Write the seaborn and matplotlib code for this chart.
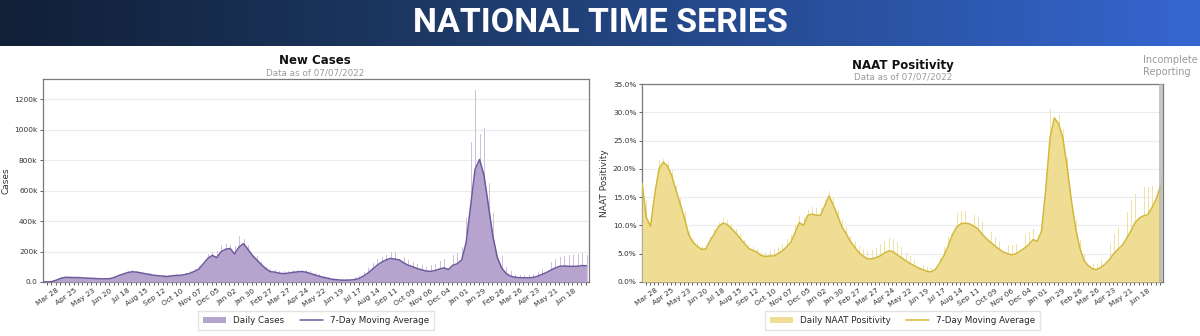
import numpy as np
import pandas as pd
import matplotlib
matplotlib.use("Agg")
import matplotlib.pyplot as plt
import matplotlib.dates as mdates
from matplotlib.patches import Patch
from matplotlib.lines import Line2D
from matplotlib.colors import LinearSegmentedColormap
import seaborn as sns

# ---------------- data (weekly readings, weeks starting 2020-03-01) ----------------
week_start = "2020-03-01"
x_end = "2022-07-07"
incomplete_start = "2022-07-01"
major_tick_start = "2020-03-28"
minor_tick_start = "2020-03-07"

# New cases, 7-day moving average (thousands)
cases_ma_k = [
    0, 0.5, 3, 12, 24, 31, 30, 29, 29, 27, 25, 24, 22, 21, 21, 22, 30, 42, 52, 62,
    67, 65, 60, 54, 49, 44, 41, 38, 36, 41, 43, 44, 50, 57, 70, 85, 120, 155, 175, 160,
    200, 215, 220, 185,
    230, 252, 215, 175, 145, 115, 88, 68, 65, 58, 55, 58, 63, 66, 69, 65, 56, 47, 38, 30,
    24, 17, 15, 12, 12, 13, 16, 24, 40, 60, 85, 110, 130, 145, 155, 150, 145, 125, 110, 100,
    88, 80, 72, 70, 75, 85, 93, 82, 110, 120, 145, 260,
    500, 740, 805, 700, 500, 300, 160, 90, 55, 38, 31, 28, 28, 27, 30, 38, 50, 62, 78, 92,
    103, 105, 103, 103, 103, 108, 106,
]
# New cases, highest single daily report in each week (thousands)
cases_peak_k = [
    0.5, 2, 8, 20, 33, 35, 35, 36, 34, 31, 29, 28, 26, 24, 25, 28, 38, 52, 62, 75,
    78, 74, 68, 62, 56, 50, 48, 45, 44, 49, 50, 55, 62, 70, 88, 108, 150, 185, 200, 205,
    240, 250, 245, 235,
    300, 280, 240, 200, 170, 130, 100, 85, 78, 70, 72, 75, 78, 80, 85, 78, 70, 58, 50, 40,
    32, 25, 22, 20, 18, 22, 35, 40, 65, 95, 125, 150, 165, 180, 195, 200, 185, 165, 145, 130,
    120, 110, 100, 110, 120, 140, 150, 170, 180, 190, 230, 420,
    918, 1264, 970, 1012, 650, 450, 260, 170, 100, 70, 55, 48, 45, 45, 55, 65, 85, 110, 130, 150,
    165, 170, 175, 180, 185, 190, 175,
]
# NAAT positivity, 7-day moving average (%)
naat_ma_pct = [
    17.5, 11.5, 9.8, 15.5, 20.0, 21.2, 20.5, 18.8, 16.2, 13.8, 11.3, 8.3, 7.0, 6.3, 5.8, 5.8,
    7.3, 8.5, 9.8, 10.4, 10.2, 9.5, 8.7, 7.8, 6.9, 6.0, 5.6, 5.3, 4.7, 4.5, 4.6, 4.6,
    5.0, 5.5, 6.2, 7.0, 8.7, 10.5, 10.0, 11.8, 12.0, 11.8, 11.8, 13.5,
    15.2, 13.6, 11.8, 9.8, 8.6, 7.2, 6.2, 5.2, 4.6, 4.1, 4.1, 4.3, 4.6, 5.1, 5.5, 5.4,
    4.8, 4.3, 3.8, 3.3, 2.9, 2.5, 2.2, 1.9, 1.8, 2.2, 3.3, 4.6, 6.3, 8.3, 9.7, 10.3,
    10.4, 10.3, 9.9, 9.4, 8.5, 7.7, 7.0, 6.4, 5.8, 5.3, 5.0, 4.8, 5.0, 5.5, 6.0, 6.6,
    7.5, 7.2, 9.0, 16.5,
    25.5, 29.0, 28.0, 25.5, 20.5, 14.5, 9.5, 6.0, 3.8, 2.9, 2.3, 2.2, 2.6, 3.2, 4.0, 5.0,
    5.8, 6.5, 7.7, 9.0, 10.5, 11.3, 11.7, 11.9, 13.2, 14.7, 17.0,
]
# NAAT positivity, highest single daily value in each week (%)
naat_peak_pct = [
    18.5, 14.5, 11.0, 17.0, 21.5, 21.8, 21.3, 19.8, 17.0, 14.8, 12.3, 9.0, 7.6, 6.9, 6.4, 6.4,
    8.0, 9.3, 10.6, 11.3, 10.9, 10.2, 9.3, 8.4, 7.4, 6.5, 6.1, 5.8, 5.3, 5.3, 5.5, 5.8,
    6.2, 6.8, 7.6, 8.3, 10.0, 11.6, 11.5, 12.8, 13.3, 13.0, 13.1, 14.6,
    16.0, 15.0, 12.8, 11.0, 9.8, 8.2, 7.2, 6.3, 5.8, 5.5, 5.7, 6.0, 6.8, 7.3, 7.8, 7.6,
    7.0, 6.1, 5.2, 4.6, 4.0, 3.5, 3.0, 2.6, 2.4, 3.0, 4.5, 6.2, 8.0, 10.8, 12.2, 12.5,
    12.5, 12.4, 11.8, 11.5, 10.6, 9.6, 8.8, 8.0, 7.2, 6.7, 6.5, 6.6, 6.8, 7.4, 8.3, 8.9,
    9.4, 9.6, 11.5, 19.5,
    30.5, 30.3, 29.6, 27.0, 22.0, 16.0, 11.0, 7.5, 5.0, 3.8, 3.2, 3.2, 4.0, 5.0, 6.8, 8.5,
    9.5, 10.8, 12.4, 14.5, 15.5, 16.3, 16.8, 16.8, 17.0, 17.3, 19.0,
]
case_ticks_k = [0, 200, 400, 600, 800, 1000, 1200]
case_tick_labels = ["0.0", "200k", "400k", "600k", "800k", "1000k", "1200k"]
pct_ticks = [0, 5, 10, 15, 20, 25, 30, 35]

# ---------------- style ----------------
sns.set_theme(style="white")
plt.rcParams["font.family"] = ["DejaVu Sans"]

W, H = 1200, 336
fig = plt.figure(figsize=(W / 100, H / 100), dpi=100)
fig.patch.set_facecolor("white")

# banner
banner_h = 46
axb = fig.add_axes([0, 1 - banner_h / H, 1, banner_h / H])
cmap = LinearSegmentedColormap.from_list(
    "banner", [(0, "#111f37"), (0.35, "#1c3863"), (1, "#3566d0")])
axb.imshow(np.linspace(0, 1, 512)[None, :], cmap=cmap, aspect="auto",
           extent=[0, 1, 0, 1])
axb.set_xlim(0, 1); axb.set_ylim(0, 1); axb.axis("off")
axb.text(0.5, 0.5, "NATIONAL TIME SERIES", color="white", fontsize=24.5,
         fontweight="bold", ha="center", va="center",
         family=["Liberation Sans Narrow", "Roboto", "DejaVu Sans"])

weeks = pd.date_range(week_start, periods=len(cases_ma_k), freq="7D")
xw = mdates.date2num(weeks)
x0 = mdates.date2num(pd.Timestamp(week_start))
x1 = mdates.date2num(pd.Timestamp(x_end))
majors = pd.date_range(major_tick_start, x_end, freq="28D")
minors = pd.date_range(minor_tick_start, x_end, freq="7D")

SPINE = "#7a7a7a"


def style_axes(ax):
    ax.set_xlim(x0, x1)
    ax.set_xticks(mdates.date2num(majors))
    ax.set_xticklabels([d.strftime("%b %d") for d in majors], rotation=35,
                       ha="right", fontsize=5.3, color="#333333")
    ax.set_xticks(mdates.date2num(minors), minor=True)
    ax.tick_params(axis="x", which="both", direction="out", length=2.5,
                   width=0.6, color="#444444", pad=1.5, bottom=True)
    ax.tick_params(axis="y", direction="out", length=2.5, width=0.6,
                   color="#444444", labelsize=5.3, labelcolor="#333333",
                   pad=1.5, left=True)
    ax.yaxis.grid(True, color="#ececec", lw=0.8)
    ax.xaxis.grid(False)
    ax.set_axisbelow(True)
    for s in ax.spines.values():
        s.set_color(SPINE)
        s.set_linewidth(0.9)
    ax.set_xlabel("")


# ---------------- New Cases ----------------
c_fill, c_spike, c_line = "#b6a4ce", "#cdc1de", "#6d5a9c"
ax1 = fig.add_axes([43 / W, 54 / H, 546 / W, 203 / H])
ax1.bar(xw + 1, cases_peak_k, width=1.3, color=c_spike, edgecolor="none", zorder=2)
ax1.fill_between(xw, cases_ma_k, 0, color=c_fill, lw=0, zorder=3)
sns.lineplot(x=xw, y=cases_ma_k, ax=ax1, color=c_line, lw=1.1, zorder=4)
style_axes(ax1)
ax1.set_ylim(0, 1333)
ax1.set_yticks(case_ticks_k)
ax1.set_yticklabels(case_tick_labels)
ax1.set_ylabel("Cases", fontsize=6.5, color="#333333", labelpad=3)
ax1.legend(handles=[Patch(facecolor=c_fill, edgecolor="none"),
                    Line2D([0], [0], color=c_line, lw=1.1)],
           labels=["Daily Cases", "7-Day Moving Average"], ncol=2,
           loc="center", bbox_to_anchor=(0.5, -0.19), fontsize=6.3,
           frameon=True, edgecolor="#dddddd", fancybox=False,
           handlelength=2.6, columnspacing=1.8, borderpad=0.55)

fig.text(315 / W, 1 - 60 / H, "New Cases", ha="center", va="center",
         fontsize=8.5, fontweight="bold", color="#111111")
fig.text(315 / W, 1 - 73 / H, "Data as of 07/07/2022", ha="center", va="center",
         fontsize=6.3, color="#9a9a9a")

# ---------------- NAAT Positivity ----------------
n_fill, n_spike, n_line = "#eedd93", "#efe2a4", "#d3b83a"
ax2 = fig.add_axes([642 / W, 54 / H, 521 / W, 198 / H])
ax2.bar(xw + 1, naat_peak_pct, width=1.3, color=n_spike, edgecolor="none", zorder=2)
ax2.fill_between(xw, naat_ma_pct, 0, color=n_fill, lw=0, zorder=3)
sns.lineplot(x=xw, y=naat_ma_pct, ax=ax2, color=n_line, lw=1.1, zorder=4)
ax2.axvspan(mdates.date2num(pd.Timestamp(incomplete_start)), x1,
            color="#b5b5b5", alpha=0.75, lw=0, zorder=5)
style_axes(ax2)
ax2.set_ylim(0, 35)
ax2.set_yticks(pct_ticks)
ax2.set_yticklabels([f"{v:.1f}%" for v in pct_ticks])
ax2.set_ylabel("NAAT Positivity", fontsize=6.5, color="#333333", labelpad=3)
ax2.legend(handles=[Patch(facecolor=n_fill, edgecolor="none"),
                    Line2D([0], [0], color=n_line, lw=1.1)],
           labels=["Daily NAAT Positivity", "7-Day Moving Average"], ncol=2,
           loc="center", bbox_to_anchor=(0.5, -0.196), fontsize=6.3,
           frameon=True, edgecolor="#dddddd", fancybox=False,
           handlelength=2.6, columnspacing=1.8, borderpad=0.55)

fig.text(903 / W, 1 - 65 / H, "NAAT Positivity", ha="center", va="center",
         fontsize=8.5, fontweight="bold", color="#111111")
fig.text(903 / W, 1 - 77 / H, "Data as of 07/07/2022", ha="center", va="center",
         fontsize=6.3, color="#9a9a9a")
fig.text(1143 / W, 1 - 66 / H, "Incomplete\nReporting", ha="left", va="center",
         fontsize=7, color="#9a9a9a", linespacing=1.15)

fig.savefig("out.png", dpi=100, facecolor="white")
